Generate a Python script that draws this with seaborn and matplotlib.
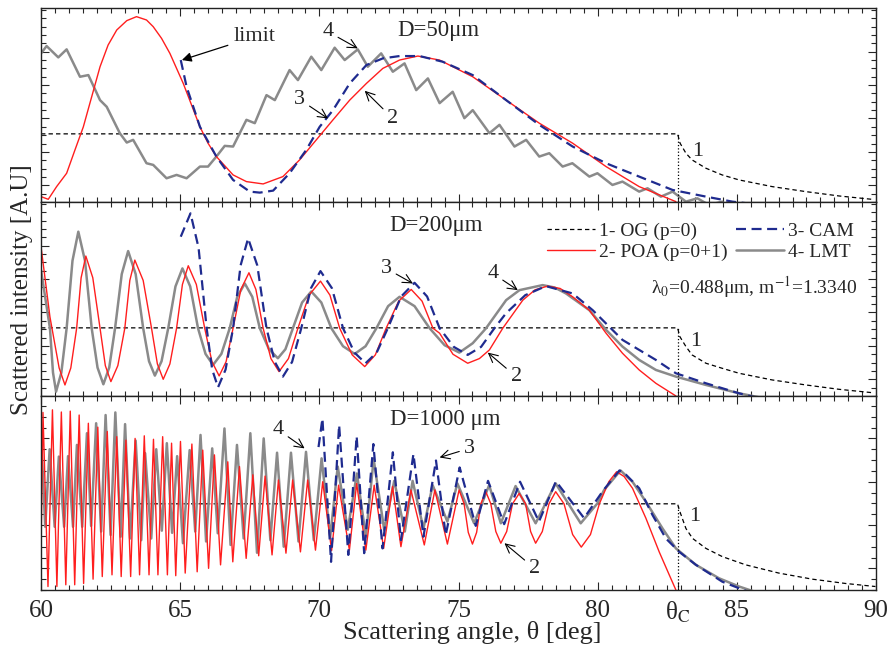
import matplotlib
matplotlib.use('Agg')
import matplotlib.pyplot as plt
import pandas as pd
import seaborn as sns
from matplotlib.ticker import MultipleLocator, FixedLocator

# critical scattering angle for m^-1 = 1.334
THETA_C = 82.87

x_ticks = [60, 65, 70, 75, 80, THETA_C, 85, 90]
x_tick_labels = ['60', '65', '70', '75', '80', 'θ$_\\mathrm{C}$', '85', '90']

# OG (p=0) plateau level and tail after theta_c, per panel
og_levels = [2.04, 2.04, 1.99]
og_tail_top = [(82.96, 1.76), (83.17, 1.46), (83.39, 1.26), (83.89, 1.01), (84.47, 0.81),
               (85.08, 0.66), (86.27, 0.46), (87.48, 0.31), (88.67, 0.18), (89.85, 0.08)]
og_tail_mid = [(82.95, 1.78), (83.17, 1.48), (83.39, 1.23), (83.89, 0.98), (84.47, 0.83),
               (85.08, 0.68), (86.27, 0.48), (87.48, 0.33), (88.67, 0.20), (89.85, 0.10)]
og_tail_bot = [(82.93, 1.85), (83.17, 1.42), (83.41, 1.19), (83.89, 0.96), (84.48, 0.77),
               (85.32, 0.58), (86.51, 0.39), (87.71, 0.25), (88.91, 0.15), (89.98, 0.08)]

# D = 50 um
poa_top = [(60.00, 0.16), (60.26, 0.08), (60.56, 0.46), (60.92, 0.86), (61.22, 1.56), (61.52, 2.25),
           (61.82, 3.15), (62.12, 4.05), (62.41, 4.70), (62.72, 5.15), (63.08, 5.43), (63.43, 5.55),
           (63.79, 5.45), (64.03, 5.25), (64.33, 4.90), (64.63, 4.45), (65.11, 3.55), (65.41, 2.90),
           (65.71, 2.25), (66.00, 1.76), (66.30, 1.36), (66.90, 0.81), (67.38, 0.61), (67.98, 0.54),
           (68.69, 0.76), (69.29, 1.26), (69.89, 1.86), (70.49, 2.46), (71.09, 3.05), (71.69, 3.55),
           (72.28, 4.00), (72.88, 4.25), (73.54, 4.37), (74.32, 4.25), (75.51, 3.75), (76.71, 3.05),
           (77.90, 2.36), (79.10, 1.76), (80.30, 1.06), (81.49, 0.46), (82.81, 0.01)]
cam_top = [(65.02, 4.25), (65.23, 3.45), (65.71, 2.25), (66.30, 1.36), (66.90, 0.66), (67.50, 0.31),
           (67.86, 0.28), (68.34, 0.34), (68.93, 0.86), (69.53, 1.56), (70.01, 2.25), (70.49, 2.75),
           (71.09, 3.55), (71.69, 4.10), (72.28, 4.30), (72.88, 4.37), (73.60, 4.37), (74.43, 4.20),
           (75.51, 3.80), (76.71, 3.05), (77.90, 2.31), (79.10, 1.66), (80.30, 1.16), (81.49, 0.76),
           (82.69, 0.36), (83.89, 0.16), (84.84, 0.01), (85.80, -0.08)]
lmt_top = [(60.00, 4.45), (60.20, 4.67), (60.62, 4.33), (60.92, 4.57), (61.40, 3.75), (61.70, 3.80),
           (62.12, 3.05), (62.36, 2.85), (62.83, 2.06), (63.08, 1.78), (63.31, 1.86), (63.79, 1.16),
           (64.03, 1.11), (64.51, 0.71), (64.87, 0.81), (65.23, 0.71), (65.71, 1.06), (66.00, 1.06),
           (66.30, 1.36), (66.60, 1.68), (66.90, 1.66), (67.38, 2.46), (67.68, 2.36), (68.10, 3.20),
           (68.40, 3.05), (68.93, 3.95), (69.23, 3.65), (69.71, 4.35), (70.07, 3.95), (70.55, 4.62),
           (70.91, 4.25), (71.38, 4.57), (71.74, 4.05), (72.22, 4.45), (72.64, 3.90), (73.06, 4.15),
           (73.48, 3.35), (73.90, 3.70), (74.32, 2.96), (74.79, 3.30), (75.21, 2.51), (75.51, 2.75),
           (76.11, 2.06), (76.47, 2.31), (77.01, 1.66), (77.43, 1.86), (77.90, 1.36), (78.26, 1.46),
           (78.74, 1.06), (79.09, 1.16), (79.70, 0.76), (79.99, 0.86), (80.53, 0.51), (80.89, 0.61),
           (81.49, 0.31), (81.79, 0.41), (82.27, 0.16), (82.69, 0.31), (83.17, 0.01), (83.58, 0.11),
           (84.00, -0.09), (84.48, 0.01)]

# D = 200 um
poa_mid = [(60.00, 4.47), (60.32, 2.37), (60.65, 0.84), (60.86, 0.33), (61.07, 0.84), (61.28, 2.03),
           (61.44, 3.54), (61.61, 4.19), (61.86, 3.54), (62.12, 2.03), (62.31, 0.91), (62.51, 0.43),
           (62.76, 0.91), (63.01, 2.03), (63.19, 3.46), (63.37, 4.07), (63.67, 3.46), (63.97, 2.03),
           (64.18, 0.96), (64.39, 0.50), (64.63, 0.96), (64.87, 2.03), (65.08, 3.34), (65.29, 3.90),
           (65.58, 3.34), (65.88, 2.03), (66.14, 1.03), (66.40, 0.60), (66.65, 1.03), (66.90, 2.03),
           (67.18, 3.19), (67.47, 3.69), (67.72, 3.19), (67.98, 2.03), (68.26, 1.12), (68.55, 0.73),
           (68.89, 1.12), (69.23, 2.03), (69.63, 3.02), (70.04, 3.44), (70.38, 3.02), (70.73, 2.03),
           (71.18, 1.23), (71.63, 0.88), (72.01, 1.23), (72.40, 2.03), (72.85, 2.84), (73.30, 3.19),
           (73.69, 2.84), (74.08, 2.03), (74.32, 1.88), (74.80, 1.25), (75.33, 0.98), (75.75, 1.12),
           (76.11, 1.38), (76.59, 2.03), (77.31, 2.87), (77.75, 3.18), (78.20, 3.29), (78.65, 3.22),
           (79.10, 2.97), (79.70, 2.57), (80.30, 1.88), (80.89, 1.28), (81.49, 0.78), (82.09, 0.38),
           (82.81, 0.00)]
cam_mid = [(65.02, 4.77), (65.37, 5.47), (65.66, 4.44), (65.95, 2.03), (66.15, 0.79), (66.36, 0.26),
           (66.63, 0.79), (66.90, 2.03), (67.17, 3.91), (67.44, 4.72), (67.77, 3.91), (68.10, 2.03),
           (68.40, 1.02), (68.69, 0.58), (69.02, 1.02), (69.35, 2.03), (69.70, 3.23), (70.04, 3.74),
           (70.45, 3.23), (70.85, 2.03), (71.26, 1.30), (71.66, 0.98), (72.06, 1.30), (72.46, 2.03),
           (72.94, 2.98), (73.42, 3.39), (73.87, 2.98), (74.32, 2.03), (74.83, 1.47), (75.33, 1.23),
           (75.81, 1.47), (76.29, 2.03), (76.71, 2.48), (77.40, 3.02), (78.14, 3.29), (79.10, 3.07),
           (79.82, 2.57), (80.89, 1.68), (82.09, 1.08), (82.81, 0.68), (83.89, 0.38), (85.08, 0.08),
           (86.04, -0.12)]
lmt_mid = [(60.00, 3.77), (60.32, 2.03), (60.43, 0.70), (60.54, 0.13), (60.73, 0.70), (60.92, 2.03),
           (61.13, 4.05), (61.34, 4.92), (61.58, 4.05), (61.82, 2.03), (62.03, 0.85), (62.24, 0.35),
           (62.45, 0.85), (62.66, 2.03), (62.90, 3.65), (63.13, 4.34), (63.40, 3.65), (63.67, 2.03),
           (63.88, 1.04), (64.09, 0.61), (64.33, 1.04), (64.57, 2.03), (64.83, 3.28), (65.08, 3.82),
           (65.36, 3.28), (65.64, 2.03), (65.91, 1.26), (66.18, 0.93), (66.48, 1.26), (66.78, 2.03),
           (67.05, 2.97), (67.32, 3.37), (67.59, 2.97), (67.86, 2.03), (68.19, 1.40), (68.51, 1.13),
           (68.78, 1.40), (69.05, 2.03), (69.38, 2.80), (69.71, 3.13), (70.07, 2.80), (70.43, 2.03),
           (70.85, 1.49), (71.27, 1.26), (71.66, 1.49), (72.05, 2.03), (72.47, 2.69), (72.88, 2.97),
           (73.42, 2.69), (73.96, 2.03), (74.50, 1.52), (75.03, 1.30), (75.51, 1.58), (75.99, 2.03),
           (76.71, 2.87), (77.19, 3.17), (78.02, 3.32), (78.45, 3.25), (78.86, 3.07), (79.70, 2.57),
           (80.30, 1.98), (80.89, 1.48), (81.49, 1.08), (82.09, 0.78), (82.81, 0.58), (83.89, 0.33),
           (85.08, 0.08), (86.28, -0.12)]

# D = 1000 um
poa_bot = [(60.00, 0.97), (60.07, 4.10), (60.25, 0.08), (60.41, 4.16), (60.57, 0.08), (60.73, 4.11),
           (60.89, 0.12), (61.05, 4.13), (61.21, 0.12), (61.37, 4.04), (61.53, 0.15), (61.70, 3.85),
           (61.87, 0.25), (62.04, 3.76), (62.20, 0.31), (62.38, 3.66), (62.55, 0.35), (62.72, 3.54),
           (62.88, 0.31), (63.05, 3.46), (63.22, 0.31), (63.38, 3.50), (63.54, 0.35), (63.71, 3.56),
           (63.88, 0.35), (64.04, 3.48), (64.20, 0.35), (64.37, 3.54), (64.54, 0.35), (64.69, 3.39),
           (64.84, 0.33), (65.01, 3.43), (65.18, 0.39), (65.42, 3.37), (65.61, 0.42), (65.81, 3.23),
           (66.02, 0.50), (66.23, 3.12), (66.45, 0.58), (66.71, 2.96), (66.89, 0.65), (67.13, 2.85),
           (67.37, 0.73), (67.61, 2.66), (67.82, 0.79), (68.05, 2.63), (68.30, 0.81), (68.53, 2.54),
           (68.80, 0.85), (69.04, 2.54), (69.32, 0.88), (69.58, 2.54), (69.86, 0.92), (70.12, 2.50),
           (70.44, 0.91), (70.69, 2.42), (71.08, 0.92), (71.34, 2.46), (71.67, 0.92), (71.97, 2.42),
           (72.31, 0.96), (72.63, 2.39), (72.93, 1.00), (73.29, 2.31), (73.77, 1.04), (74.15, 2.31),
           (74.60, 1.06), (75.02, 2.31), (75.20, 1.99), (75.35, 1.33), (75.50, 1.06), (75.65, 1.33),
           (75.80, 1.99), (75.98, 2.27), (76.16, 1.99), (76.34, 1.35), (76.52, 1.08), (76.73, 1.35),
           (76.94, 1.99), (77.18, 2.23), (77.41, 1.99), (77.59, 1.35), (77.77, 1.08), (78.01, 1.35),
           (78.25, 1.99), (78.49, 2.27), (78.79, 1.99), (79.10, 1.28), (79.41, 0.99), (79.74, 1.28),
           (80.06, 1.99), (80.40, 2.50), (80.68, 2.73), (80.95, 2.62), (81.25, 2.35), (81.73, 1.66),
           (82.21, 0.88), (82.57, 0.35), (82.81, 0.00)]
cam_bot = [(69.97, 3.30), (70.11, 3.96), (70.42, 0.65), (70.71, 3.81), (71.04, 0.81), (71.34, 3.55),
           (71.61, 0.85), (71.94, 3.37), (72.27, 0.96), (72.64, 3.18), (72.93, 1.15), (73.38, 3.14),
           (73.74, 1.23), (74.19, 2.99), (74.54, 1.27), (75.04, 2.83), (75.62, 1.48), (76.06, 2.52),
           (76.64, 1.52), (77.21, 2.50), (77.89, 1.58), (78.50, 2.51), (79.51, 1.66), (80.20, 2.30),
           (80.78, 2.76), (81.02, 2.66), (81.49, 2.35), (81.97, 1.73), (82.45, 1.19), (82.93, 0.88),
           (83.53, 0.58), (84.48, 0.19), (85.56, -0.08)]
lmt_bot = [(60.00, 3.58), (60.15, 1.46), (60.31, 3.25), (60.49, 1.46), (60.64, 3.08), (60.83, 1.46),
           (60.97, 3.09), (61.15, 1.46), (61.29, 3.35), (61.48, 1.46), (61.65, 3.62), (61.80, 1.48),
           (61.98, 3.85), (62.16, 1.35), (62.32, 4.04), (62.50, 1.27), (62.67, 4.10), (62.86, 1.23),
           (63.02, 3.83), (63.20, 1.19), (63.40, 3.45), (63.60, 1.15), (63.74, 3.16), (63.96, 1.19),
           (64.14, 3.25), (64.34, 1.37), (64.52, 3.39), (64.71, 1.32), (64.89, 3.09), (65.10, 1.08),
           (65.34, 3.23), (65.54, 1.35), (65.73, 3.58), (65.93, 1.12), (66.15, 3.27), (66.35, 1.31),
           (66.59, 3.73), (66.81, 1.04), (67.04, 3.35), (67.28, 1.19), (67.52, 3.62), (67.76, 0.86),
           (68.00, 3.50), (68.24, 1.15), (68.48, 3.17), (68.72, 1.00), (68.98, 3.17), (69.25, 1.12),
           (69.52, 3.19), (69.80, 1.15), (70.08, 3.04), (70.39, 1.23), (70.66, 2.85), (71.02, 1.39),
           (71.35, 2.69), (71.67, 1.23), (71.95, 3.02), (72.33, 1.39), (72.69, 2.52), (73.07, 1.35),
           (73.35, 2.52), (73.74, 1.42), (74.07, 2.42), (74.60, 1.58), (74.96, 2.46), (75.56, 1.54),
           (76.10, 2.42), (76.52, 1.54), (77.05, 2.40), (77.77, 1.54), (78.49, 2.46), (79.39, 1.54),
           (79.99, 2.00), (80.23, 2.31), (80.82, 2.76), (81.25, 2.50), (81.73, 2.04), (82.33, 1.42),
           (82.81, 0.96), (83.53, 0.58), (84.36, 0.27), (85.08, 0.08), (85.92, -0.10)]

panel_titles = ['D=50μm', 'D=200μm', 'D=1000 μm']
panel_ymax = [5.81, 5.81, 4.48]

sns.set_style('ticks')
plt.rcParams['font.family'] = ['Liberation Serif', 'DejaVu Serif']
plt.rcParams['mathtext.fontset'] = 'stix'

RED = '#ff1e1e'
BLUE = '#1f2b8f'
GRAY = '#8a8a8a'


def to_df(pairs):
    return pd.DataFrame(pairs, columns=['angle', 'intensity'])


def draw_panel(ax, level, og_tail, lmt, poa, cam, ymax):
    og = [(60.0, level), (THETA_C, level)] + og_tail
    sns.lineplot(data=to_df(og), x='angle', y='intensity', ax=ax, color='black', lw=0.9,
                 linestyle=(0, (3.5, 2.5)), estimator=None, sort=False, label='1- OG (p=0)')
    sns.lineplot(data=to_df(lmt), x='angle', y='intensity', ax=ax, color=GRAY, lw=1.8,
                 estimator=None, sort=False, label='4- LMT')
    sns.lineplot(data=to_df(poa), x='angle', y='intensity', ax=ax, color=RED, lw=1.0,
                 estimator=None, sort=False, label='2- POA (p=0+1)')
    sns.lineplot(data=to_df(cam), x='angle', y='intensity', ax=ax, color=BLUE, lw=1.6,
                 linestyle=(0, (4.5, 2.5)), estimator=None, sort=False, label='3- CAM')
    ax.plot([THETA_C, THETA_C], [0, level], color='black', lw=0.9, ls=':')

    ax.set_xlim(60, 90)
    ax.set_ylim(0, ymax)
    ax.xaxis.set_major_locator(FixedLocator(x_ticks))
    ax.xaxis.set_minor_locator(MultipleLocator(0.5))
    ax.yaxis.set_major_locator(FixedLocator([0.5 + k for k in range(int(ymax))]))
    ax.yaxis.set_minor_locator(MultipleLocator(0.25))
    ax.tick_params(which='both', direction='in', top=True, right=True, width=0.8)
    ax.tick_params(which='major', length=6)
    ax.tick_params(which='minor', length=3.5)
    ax.set_yticklabels([])
    ax.set_xlabel('')
    ax.set_ylabel('')
    for sp in ax.spines.values():
        sp.set_linewidth(1.0)
        sp.set_color('#222222')
    if ax.get_legend() is not None:
        ax.get_legend().remove()


fig = plt.figure(figsize=(8.9, 6.53), dpi=100)
left, width, h = 0.0461, 0.9382, 0.2971
ax_top = fig.add_axes([left, 0.6907, width, h])
ax_mid = fig.add_axes([left, 0.3936, width, h])
ax_bot = fig.add_axes([left, 0.0965, width, h])

draw_panel(ax_top, og_levels[0], og_tail_top, lmt_top, poa_top, cam_top, panel_ymax[0])
draw_panel(ax_mid, og_levels[1], og_tail_mid, lmt_mid, poa_mid, cam_mid, panel_ymax[1])
draw_panel(ax_bot, og_levels[2], og_tail_bot, lmt_bot, poa_bot, cam_bot, panel_ymax[2])

ax_top.set_xticklabels([])
ax_mid.set_xticklabels([])
ax_bot.set_xticklabels(x_tick_labels, fontsize=18)
ax_bot.tick_params(axis='x', which='major', pad=7)

FS = 16
arrow = dict(arrowstyle='->', color='black', lw=0.8, shrinkA=1, shrinkB=0)

# top panel
ax_top.text(72.80, 5.15, panel_titles[0], fontsize=16.5, va='center', ha='left')
ax_top.annotate('limit', xy=(65.06, 4.25), xytext=(67.68, 4.95), fontsize=FS, ha='center', va='center',
                arrowprops=dict(arrowstyle='-|>', color='black', lw=0.9, shrinkA=2, shrinkB=0,
                                mutation_scale=14))
ax_top.annotate('4', xy=(71.38, 4.60), xytext=(70.31, 5.10), fontsize=FS, ha='center', va='center', arrowprops=arrow)
ax_top.annotate('3', xy=(70.31, 2.50), xytext=(69.29, 3.07), fontsize=FS, ha='center', va='center', arrowprops=arrow)
ax_top.annotate('2', xy=(71.63, 3.33), xytext=(72.64, 2.50), fontsize=FS, ha='center', va='center', arrowprops=arrow)
ax_top.text(83.58, 1.51, '1', fontsize=FS, ha='center', va='center')

# middle panel
ax_mid.text(72.52, 5.12, panel_titles[1], fontsize=16.5, va='center', ha='left')
ax_mid.annotate('3', xy=(73.36, 3.37), xytext=(72.40, 3.82), fontsize=FS, ha='center', va='center', arrowprops=arrow)
ax_mid.annotate('4', xy=(77.13, 3.17), xytext=(76.23, 3.67), fontsize=FS, ha='center', va='center', arrowprops=arrow)
ax_mid.annotate('2', xy=(76.05, 1.30), xytext=(77.07, 0.58), fontsize=FS, ha='center', va='center', arrowprops=arrow)
ax_mid.text(83.53, 1.63, '1', fontsize=FS, ha='center', va='center')
ax_mid.text(89.32, 3.27, 'λ$_0$=0.488μm, m$^{-1}$=1.3340', fontsize=14, ha='right', va='center')
handles, labels = ax_mid.get_legend_handles_labels()
order = [labels.index(s) for s in ['1- OG (p=0)', '2- POA (p=0+1)', '3- CAM', '4- LMT']]
ax_mid.legend([handles[i] for i in order], [labels[i] for i in order], ncol=2, loc='upper right',
              bbox_to_anchor=(0.99, 0.965), frameon=False, fontsize=14, handlelength=2.5,
              handletextpad=0.2, columnspacing=0.4, labelspacing=0.15, borderpad=0.2)

# bottom panel
ax_bot.text(72.52, 3.93, panel_titles[2], fontsize=16.5, va='center', ha='left')
ax_bot.annotate('4', xy=(69.47, 3.27), xytext=(68.52, 3.70), fontsize=FS, ha='center', va='center', arrowprops=arrow)
ax_bot.annotate('3', xy=(74.32, 3.06), xytext=(75.39, 3.27), fontsize=FS, ha='center', va='center', arrowprops=arrow)
ax_bot.annotate('2', xy=(76.65, 1.08), xytext=(77.73, 0.50), fontsize=FS, ha='center', va='center', arrowprops=arrow)
ax_bot.text(83.47, 1.69, '1', fontsize=FS, ha='center', va='center')

fig.text(0.025, 0.557, 'Scattered intensity [A.U]', rotation=90, fontsize=18, ha='center', va='center')
fig.text(0.531, 0.031, 'Scattering angle, θ [deg]', fontsize=19, ha='center', va='center')

fig.savefig('out.png', dpi=100)
